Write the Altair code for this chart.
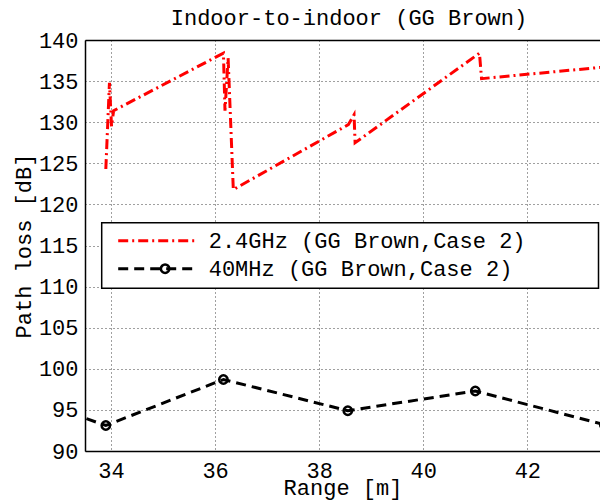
import altair as alt
import pandas as pd

# ---- data ----
title_text = "Indoor-to-indoor (GG Brown)"
red_label = "2.4GHz (GG Brown,Case 2)"
black_label = "40MHz (GG Brown,Case 2)"

red_range = [33.90, 33.97, 34.01, 34.05, 36.16, 36.19, 36.25, 36.35, 38.56, 38.67, 38.69, 41.08, 41.12, 43.46, 43.53]
red_loss = [124.3, 134.8, 129.5, 131.4, 138.4, 131.4, 137.8, 121.8, 129.7, 130.9, 127.5, 138.4, 135.3, 136.7, 131.0]

black_range = [31.50, 33.90, 36.16, 38.55, 41.00, 43.48]
black_loss = [98.5, 93.1, 98.7, 94.9, 97.3, 93.2]

x_ticks = [34, 36, 38, 40, 42]
y_ticks = [90, 95, 100, 105, 110, 115, 120, 125, 130, 135, 140]

FONT = "Liberation Mono"
FS = 22
W, H = 515, 411

df_lines = pd.DataFrame({
    "range": red_range + black_range,
    "loss": red_loss + black_loss,
    "series": [red_label] * len(red_range) + [black_label] * len(black_range),
    "order": list(range(len(red_range))) + list(range(len(black_range))),
})
df_marks = pd.DataFrame({"range": black_range, "loss": black_loss, "marker": black_label})
df_title = pd.DataFrame({"title": [title_text]})

x_scale = alt.Scale(domain=[33.5, 33.5 + W / 52.04], nice=False, zero=False)
y_scale = alt.Scale(domain=[90, 140], nice=False, zero=False)
series_domain = [red_label, black_label]

grid_kw = dict(grid=True, gridColor="#000000", gridOpacity=0.75, gridDash=[1, 3], gridWidth=1)

x_axis_bottom = alt.Axis(
    values=x_ticks, title="Range [m]", format="d", ticks=False,
    labelFont=FONT, labelFontSize=FS, labelColor="black", labelPadding=9,
    titleFont=FONT, titleFontSize=FS, titleFontWeight="normal", titleColor="black",
    titleY=43.5, titleBaseline="alphabetic",
    domainColor="black", domainWidth=1.5, **grid_kw,
)
x_axis_top = alt.Axis(
    orient="top", values=x_ticks, labels=False, ticks=False, grid=False, title=None,
    domainColor="black", domainWidth=1.5,
)
y_axis = alt.Axis(
    values=y_ticks, title="Path loss [dB]", ticks=False,
    labelFont=FONT, labelFontSize=FS, labelColor="black", labelPadding=7,
    titleFont=FONT, titleFontSize=FS, titleFontWeight="normal", titleColor="black",
    titleX=-62, titleBaseline="middle",
    domainColor="black", domainWidth=1.5, **grid_kw,
)

line_legend = alt.Legend(
    title=None, orient="none", legendX=16.7, legendY=182.7, padding=7,
    symbolType="stroke", symbolSize=6400, symbolStrokeWidth=3, symbolOffset=8,
    clipHeight=22, rowPadding=6,
    labelFont=FONT, labelFontSize=FS, labelColor="black", labelLimit=1000, labelOffset=9,
)
marker_legend = alt.Legend(
    title=None, orient="none", legendX=62.1, legendY=210.7, padding=7,
    symbolType="circle", symbolSize=70, symbolStrokeWidth=2.5,
    symbolStrokeColor="black", symbolFillColor="transparent",
    clipHeight=22, labelExpr="''", labelFontSize=FS,
)

lines = alt.Chart(df_lines).mark_line(clip=True, strokeWidth=3).encode(
    x=alt.X("range:Q", scale=x_scale, axis=x_axis_bottom),
    y=alt.Y("loss:Q", scale=y_scale, axis=y_axis),
    color=alt.Color("series:N", scale=alt.Scale(domain=series_domain, range=["#ff0000", "#000000"]),
                    legend=line_legend),
    strokeDash=alt.StrokeDash("series:N", scale=alt.Scale(domain=series_domain, range=[[10, 4, 2, 4], [10, 6]]),
                              legend=line_legend),
    order="order:Q",
)

markers = alt.Chart(df_marks).mark_point(
    clip=True, shape="circle", filled=False, stroke="black", strokeWidth=2.5, size=70
).encode(
    x=alt.X("range:Q", scale=x_scale, axis=x_axis_top),
    y=alt.Y("loss:Q", scale=y_scale, axis=y_axis),
    opacity=alt.Opacity("marker:N", scale=alt.Scale(domain=[black_label], range=[1]),
                        legend=marker_legend),
)

# wide white frame behind the legend entries (as in the original figure)
legend_frame = alt.Chart(df_title).mark_rect(
    fill="white", stroke="black", strokeWidth=1.5,
    x=16.7, x2=513.5, y=182.7, y2=248.3,
).encode(opacity=alt.value(1))

title = alt.Chart(df_title).mark_text(
    font=FONT, fontSize=FS, color="black", align="center", baseline="alphabetic"
).encode(
    text="title:N",
    x=alt.value(264),
    y=alt.value(-15),
)

chart = alt.layer(lines, markers, legend_frame, title).resolve_axis(x="independent").properties(
    width=W,
    height=H,
    autosize="none",
    padding={"left": 77, "top": 32, "right": 0, "bottom": 49},
    background="white",
).configure_view(stroke=None)

chart.save("out.html", embed_options={"renderer": "svg", "actions": False})
